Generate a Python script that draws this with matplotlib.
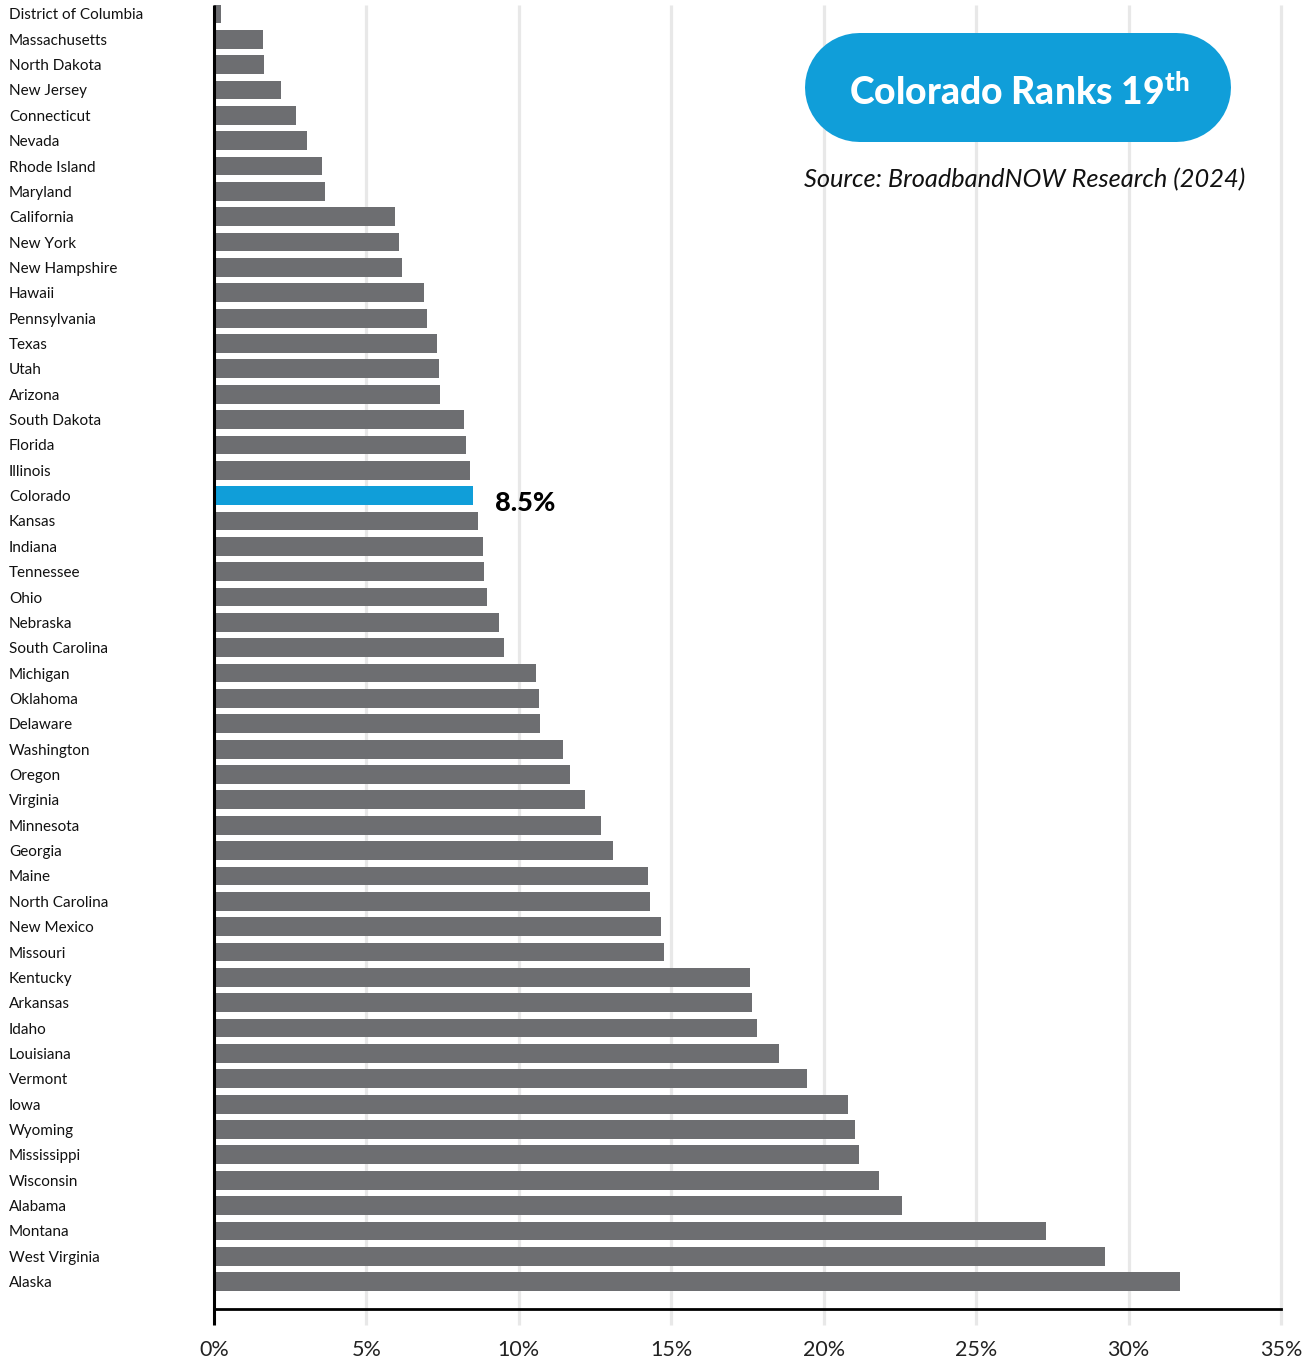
import matplotlib
matplotlib.use("Agg")
import matplotlib.pyplot as plt
from matplotlib.lines import Line2D
import matplotlib.transforms as mtransforms

plt.rcParams['font.family'] = ['Lato', 'DejaVu Sans']
plt.rcParams['mathtext.fontset'] = 'custom'
plt.rcParams['mathtext.rm'] = 'Lato'
plt.rcParams['mathtext.bf'] = 'Lato:black'
plt.rcParams['mathtext.it'] = 'Lato:italic'

states = [
    "District of Columbia", "Massachusetts", "North Dakota", "New Jersey", "Connecticut",
    "Nevada", "Rhode Island", "Maryland", "California", "New York", "New Hampshire",
    "Hawaii", "Pennsylvania", "Texas", "Utah", "Arizona", "South Dakota", "Florida",
    "Illinois", "Colorado", "Kansas", "Indiana", "Tennessee", "Ohio", "Nebraska",
    "South Carolina", "Michigan", "Oklahoma", "Delaware", "Washington", "Oregon",
    "Virginia", "Minnesota", "Georgia", "Maine", "North Carolina", "New Mexico",
    "Missouri", "Kentucky", "Arkansas", "Idaho", "Louisiana", "Vermont", "Iowa",
    "Wyoming", "Mississippi", "Wisconsin", "Alabama", "Montana", "West Virginia", "Alaska",
]
pct = [
    0.23, 1.60, 1.64, 2.20, 2.69,
    3.05, 3.54, 3.64, 5.94, 6.07, 6.17,
    6.89, 6.99, 7.31, 7.38, 7.41, 8.20, 8.26,
    8.40, 8.50, 8.66, 8.82, 8.86, 8.95, 9.35,
    9.51, 10.56, 10.66, 10.69, 11.45, 11.68,
    12.17, 12.69, 13.09, 14.23, 14.30, 14.66,
    14.76, 17.58, 17.65, 17.81, 18.53, 19.45, 20.79,
    21.02, 21.15, 21.81, 22.56, 27.29, 29.22, 31.68,
]
highlight = "Colorado"
xticks = [0, 5, 10, 15, 20, 25, 30, 35]
xtick_labels = ["0%", "5%", "10%", "15%", "20%", "25%", "30%", "35%"]
title = r"Colorado Ranks 19$^{\mathbf{th}}$"
source = "Source: BroadbandNOW Research (2024)"

GREY = "#6d6e71"
BLUE = "#109ed9"
GRID = "#e8e8e8"

W, H = 1312, 1365
fig = plt.figure(figsize=(W / 100, H / 100), dpi=100)
ax_left, ax_right = 214 / W, 1281 / W
ax_top, ax_bottom = 5 / H, 1309 / H
ax = fig.add_axes([ax_left, 1 - ax_bottom, ax_right - ax_left, ax_bottom - ax_top])

ypos = list(range(len(states)))
colors = [BLUE if s == highlight else GREY for s in states]
ax.barh(ypos, pct, height=0.74, color=colors, zorder=3)

ax.set_xlim(0, 35)
ax.set_ylim(len(states) - 1 + 1.08, -0.35)

# vertical gridlines that run slightly past the baseline
trans = mtransforms.blended_transform_factory(ax.transData, ax.transAxes)
for x in xticks[1:]:
    ax.plot([x, x], [-16 / 1304, 1], transform=trans, color=GRID, lw=2.3,
            clip_on=False, zorder=1, solid_capstyle='butt')
ax.plot([0, 0], [-16 / 1304, 1], transform=trans, color="black", lw=2.2,
        clip_on=False, zorder=5, solid_capstyle='butt')

for side in ["top", "right", "left"]:
    ax.spines[side].set_visible(False)
ax.spines["bottom"].set_linewidth(2.0)
ax.spines["bottom"].set_color("black")
ax.spines["bottom"].set_zorder(6)

ax.set_xticks(xticks)
ax.set_xticklabels(xtick_labels, fontsize=15.5, color="#222222")
ax.tick_params(axis="x", length=0, pad=22)

ax.set_yticks(ypos)
ax.set_yticklabels(states, fontsize=11, color="#111111")
ax.tick_params(axis="y", length=0, pad=205 * 0.72)
for lab in ax.get_yticklabels():
    lab.set_horizontalalignment("left")

# value label for the highlighted state
hi = states.index(highlight)
ax.text(pct[hi] + 0.72, hi + 0.3, f"{pct[hi]:.1f}%", fontsize=19.5, fontweight="black",
        va="center", ha="left", color="black", zorder=6)

# title pill: a thick line with round caps
px0, px1, py0, py1 = 804, 1230, 32, 141
r = (py1 - py0) / 2
yc = H - (py0 + py1) / 2
pill = Line2D([px0 + r, px1 - r], [yc, yc], lw=(py1 - py0) * 0.72, color=BLUE,
              solid_capstyle="round", transform=mtransforms.IdentityTransform(),
              zorder=10)
fig.add_artist(pill)
fig.text((px0 + px1) / 2 / W + 0.002, 1 - 92 / H, title, fontsize=26.8, fontweight="black",
         color="white", ha="center", va="center", zorder=11)

fig.text(1245 / W, 1 - 180 / H, source, fontsize=18.3, style="italic",
         color="#111111", ha="right", va="center")

fig.savefig("out.png", dpi=100)
